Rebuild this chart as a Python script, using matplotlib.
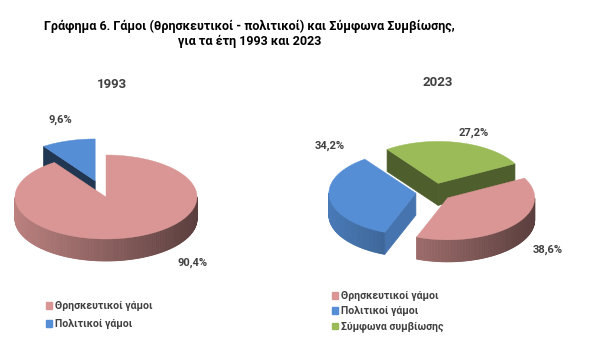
import numpy as np
import matplotlib

matplotlib.use("Agg")  # headless
import matplotlib.pyplot as plt
import matplotlib.patches as mpatches
from matplotlib.colors import to_rgb

plt.rcParams["font.family"] = ["Roboto", "DejaVu Sans"]

W, H = 597, 363

title_lines = [
    "Γράφημα 6. Γάμοι (θρησκευτικοί - πολιτικοί) και Σύμφωνα Συμβίωσης,",
    "για τα έτη 1993 και 2023",
]

years = ["1993", "2023"]
labels_1993 = ["Θρησκευτικοί γάμοι", "Πολιτικοί γάμοι"]
values_1993 = [90.4, 9.6]
labels_2023 = ["Θρησκευτικοί γάμοι", "Πολιτικοί γάμοι", "Σύμφωνα συμβίωσης"]
values_2023 = [38.6, 34.2, 27.2]

PALETTE = {
    "Θρησκευτικοί γάμοι": "#D99694",
    "Πολιτικοί γάμοι": "#558ED5",
    "Σύμφωνα συμβίωσης": "#9BBB59",
}
TEXT_GRAY = "#404040"


def shade(color, f):
    r, g, b = to_rgb(color)
    return (r * f, g * f, b * f)


def pie3d(ax, values, colors, start, cx, cy, rx, ry, depth, explode, face_shade):
    """Fake 3D pie in pixel coords (y down), slices go clockwise from start."""
    total = float(sum(values))
    slices = []
    a = start
    for v, col, e, fs in zip(values, colors, explode, face_shade):
        a1, a2 = a, a - v / total * 360.0
        a = a2
        mid = np.radians((a1 + a2) / 2)
        ox = cx + e * rx * np.cos(mid)
        oy = cy - e * ry * np.sin(mid)
        slices.append(dict(a1=a1, a2=a2, mid=mid, ox=ox, oy=oy, col=col, fs=fs))

    # back to front
    slices.sort(key=lambda s: -np.sin(s["mid"]))

    for s in slices:
        ox, oy, col = s["ox"], s["oy"], s["col"]

        def pt(deg, dz=0.0):
            t = np.radians(deg)
            return (ox + rx * np.cos(t), oy - ry * np.sin(t) + dz)

        # cut faces
        for ang, sign in ((s["a1"], -1), (s["a2"], 1)):
            if sign * np.cos(np.radians(ang)) > 1e-6:
                poly = [(ox, oy), pt(ang), pt(ang, depth), (ox, oy + depth)]
                ax.add_patch(mpatches.Polygon(poly, closed=True,
                                              facecolor=shade(col, s["fs"]),
                                              edgecolor=shade(col, s["fs"]),
                                              lw=0.5))
        # outer rim with a left-to-right gradient
        ts = np.linspace(s["a2"], s["a1"], int(abs(s["a1"] - s["a2"])) + 2)
        for t0, t1 in zip(ts[:-1], ts[1:]):
            tm = np.radians((t0 + t1) / 2)
            if np.sin(tm) >= 0:
                continue
            f = 0.86 - 0.44 * (1 + np.cos(tm)) / 2
            c = shade(col, f)
            poly = [pt(t0), pt(t1), pt(t1, depth), pt(t0, depth)]
            ax.add_patch(mpatches.Polygon(poly, closed=True, facecolor=c,
                                          edgecolor=c, lw=0.6))
        # top face
        arc = [pt(t) for t in np.linspace(s["a1"], s["a2"], 120)]
        ax.add_patch(mpatches.Polygon([(ox, oy)] + arc, closed=True,
                                      facecolor=col, edgecolor=col, lw=0.3))


fig = plt.figure(figsize=(W / 100, H / 100), dpi=100)
ax = fig.add_axes([0, 0, 1, 1])
ax.set_xlim(0, W)
ax.set_ylim(H, 0)
ax.set_axis_off()

# 1993
pie3d(ax, values_1993, [PALETTE[l] for l in labels_1993], start=90,
      cx=106, cy=197, rx=91, ry=42, depth=22,
      explode=[0.0, 0.4], face_shade=[0.45, 0.38])
# 2023
pie3d(ax, values_2023, [PALETTE[l] for l in labels_2023], start=28,
      cx=434, cy=192, rx=87, ry=42, depth=22,
      explode=[0.21, 0.21, 0.21], face_shade=[0.45, 0.82, 0.5])

# titles
ax.text(249, 26, title_lines[0], ha="center", va="center", fontsize=9.0,
        fontweight="bold", color="black")
ax.text(250, 41, title_lines[1], ha="center", va="center", fontsize=9.0,
        fontweight="bold", color="black")
ax.text(112, 84, years[0], ha="center", va="center", fontsize=9.5,
        fontweight="bold", color=TEXT_GRAY)
ax.text(438, 82, years[1], ha="center", va="center", fontsize=9.5,
        fontweight="bold", color=TEXT_GRAY)

# percentage labels
pct_pos_1993 = [(193, 263), (60, 120)]
pct_pos_2023 = [(548, 250), (330, 146), (474, 133)]
for vals, pos in ((values_1993, pct_pos_1993), (values_2023, pct_pos_2023)):
    for v, (x, y) in zip(vals, pos):
        ax.text(x, y, f"{v:.1f}%".replace(".", ","), ha="center", va="center",
                fontsize=8, fontweight="bold", color=TEXT_GRAY)

# legends
for labs, anchor, spacing in ((labels_1993, (46, 301), 0.75),
                              (labels_2023, (332, 291), 0.5)):
    handles = [mpatches.Patch(color=PALETTE[l], label=l) for l in labs]
    leg = fig.legend(handles=handles, loc="upper left",
                     bbox_to_anchor=(anchor[0] / W, 1 - anchor[1] / H),
                     frameon=False, fontsize=7.6, handlelength=0.6,
                     handleheight=0.6, handletextpad=0.25, labelspacing=spacing,
                     borderpad=0, borderaxespad=0)
    for t in leg.get_texts():
        t.set_color(TEXT_GRAY)
        t.set_fontweight("bold")

fig.savefig("out.png", dpi=100)
